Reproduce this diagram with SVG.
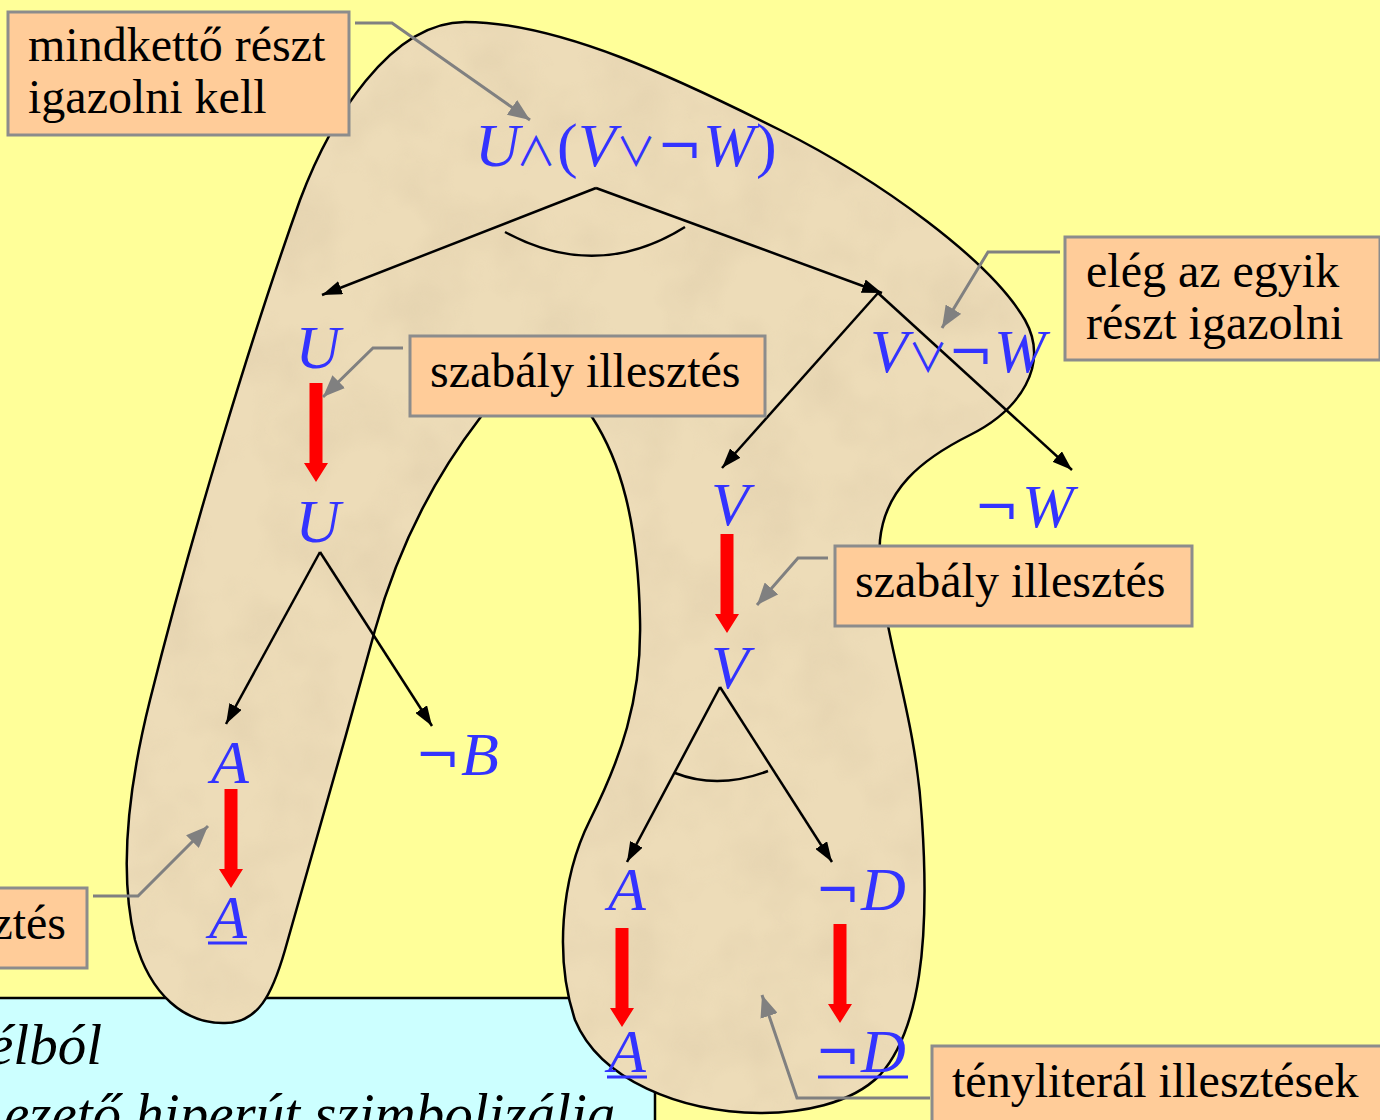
<svg xmlns="http://www.w3.org/2000/svg" width="1380" height="1120" viewBox="0 0 1380 1120">
<defs>
<style>
.box{fill:#FFCC99;stroke:#8C8C8C;stroke-width:3}
.lbl{font-family:"Liberation Serif","Times New Roman",serif;font-size:48px;fill:#000}
.m{font-family:"Liberation Serif","Times New Roman",serif;font-size:62px;fill:#3333FF;font-style:italic}
.op{font-style:normal}
.sym{font-style:normal;font-family:"Noto Sans CJK JP","DejaVu Serif",serif;font-size:40px}
.neg{font-style:normal;font-family:"DejaVu Serif",serif;font-size:54px}
.conn{fill:none;stroke:#000;stroke-width:2.5}
.call{fill:none;stroke:#808080;stroke-width:3}
.red{fill:#FF0000}
.ul{stroke:#3333FF;stroke-width:3}
</style>
<marker id="ah" viewBox="0 0 20 14" refX="20" refY="7" markerWidth="20" markerHeight="14" markerUnits="userSpaceOnUse" orient="auto"><path d="M0,0 L20,7 L0,14 Z" fill="#000"/></marker>
<marker id="gh" viewBox="0 0 22 18" refX="22" refY="9" markerWidth="22" markerHeight="18" markerUnits="userSpaceOnUse" orient="auto"><path d="M0,0 L22,9 L0,18 Z" fill="#808080"/></marker>
<path id="ra" d="M-6.5,-99 H6.5 V-19 H12 L0,0 L-12,-19 H-6.5 Z"/>
<filter id="tex" x="0" y="0" width="100%" height="100%">
<feTurbulence type="fractalNoise" baseFrequency="0.015" numOctaves="3" seed="4" result="n"/>
<feColorMatrix in="n" type="matrix" values="0 0 0 0 0.62  0 0 0 0 0.50  0 0 0 0 0.33  0.9 0 0 0 -0.35" result="c"/>
<feComposite in="c" in2="SourceGraphic" operator="in"/>
</filter>
<path id="blobshape" d="M465,22 C560,22 680,80 780,130 C880,180 990,260 1025,320 C1050,365 1020,410 970,435 C920,460 885,490 880,540 C875,620 915,700 922,820 C930,940 920,1030 880,1075 C850,1105 800,1113 760,1113 C680,1112 600,1080 575,1020 C555,960 560,880 590,820 C620,760 642,700 640,620 C638,520 620,460 592,417 C560,370 510,370 480,418 C440,470 400,540 375,630 C345,740 305,880 285,950 C272,995 258,1023 225,1023 C185,1024 150,995 135,940 C118,870 130,780 150,700 C190,540 250,340 300,200 C330,120 390,22 465,22 Z"/>
</defs>
<rect x="0" y="0" width="1380" height="1120" fill="#FFFF99"/>

<g id="infobox">
<rect x="-3" y="998" width="658" height="130" fill="#CCFFFF" stroke="#000" stroke-width="2.5"/>
<text x="-12" y="1064" font-family="Liberation Serif,serif" font-size="57" font-style="italic">élból</text>
<text x="4" y="1133" font-family="Liberation Serif,serif" font-size="57" font-style="italic">ezető hiperút szimbolizálja</text>
</g>

<g id="blob">
<use href="#blobshape" fill="#EDDCB8"/>
<use href="#blobshape" fill="#EDDCB8" filter="url(#tex)" opacity="0.55"/>
<use href="#blobshape" fill="none" stroke="#000" stroke-width="2.5"/>
</g>

<g id="connectors">
<path class="conn" d="M596,188 L322,295" marker-end="url(#ah)"/>
<path class="conn" d="M596,188 L882,293" marker-end="url(#ah)"/>
<path class="conn" d="M505,232 Q597,282 685,227"/>
<path class="conn" d="M878,293 L722,468" marker-end="url(#ah)"/>
<path class="conn" d="M878,293 L1072,470" marker-end="url(#ah)"/>
<path class="conn" d="M320,552 L226,724" marker-end="url(#ah)"/>
<path class="conn" d="M320,552 L432,726" marker-end="url(#ah)"/>
<path class="conn" d="M720,687 L627,862" marker-end="url(#ah)"/>
<path class="conn" d="M720,687 L832,862" marker-end="url(#ah)"/>
<path class="conn" d="M675,773 Q718,790 768,771"/>
<use href="#ra" class="red" transform="translate(316,482)"/>
<use href="#ra" class="red" transform="translate(727,633)"/>
<use href="#ra" class="red" transform="translate(231,888)"/>
<use href="#ra" class="red" transform="translate(622,1027)"/>
<use href="#ra" class="red" transform="translate(840,1023)"/>
</g>

<g id="n-root"><text class="m" x="475" y="166">U<tspan class="sym" x="516">∧</tspan><tspan class="op" x="557">(</tspan><tspan x="578">V</tspan><tspan class="sym" x="616">∨</tspan><tspan class="neg" x="657">¬</tspan><tspan x="703">W</tspan><tspan class="op" x="756">)</tspan></text></g>
<g id="n-U1"><text class="m" x="318" y="368" text-anchor="middle">U</text></g>
<g id="n-VorW"><text class="m" x="870" y="372">V<tspan class="sym" x="908">∨</tspan><tspan class="neg" x="948">¬</tspan><tspan x="994">W</tspan></text></g>
<g id="n-U2"><text class="m" x="318" y="542" text-anchor="middle">U</text></g>
<g id="n-V1"><text class="m" x="730" y="525" text-anchor="middle">V</text></g>
<g id="n-notW"><text class="m" x="974" y="527"><tspan class="neg">¬</tspan><tspan x="1022">W</tspan></text></g>
<g id="n-V2"><text class="m" x="730" y="688" text-anchor="middle">V</text></g>
<g id="n-A1"><text class="m" x="230" y="783" text-anchor="middle">A</text></g>
<g id="n-notB"><text class="m" x="415" y="775"><tspan class="neg">¬</tspan><tspan x="461">B</tspan></text></g>
<g id="n-A1u"><text class="m" x="228" y="938" text-anchor="middle">A</text><line class="ul" x1="208" y1="943" x2="247" y2="943"/></g>
<g id="n-A2"><text class="m" x="627" y="910" text-anchor="middle">A</text></g>
<g id="n-notD"><text class="m" x="815" y="910"><tspan class="neg">¬</tspan><tspan x="861">D</tspan></text></g>
<g id="n-A2u"><text class="m" x="627" y="1072" text-anchor="middle">A</text><line class="ul" x1="607" y1="1077" x2="647" y2="1077"/></g>
<g id="n-notDu"><text class="m" x="815" y="1072"><tspan class="neg">¬</tspan><tspan x="861">D</tspan></text><line class="ul" x1="818" y1="1077" x2="908" y2="1077"/></g>

<g id="callouts">
<path class="call" d="M355,23 H392 L530,120" marker-end="url(#gh)"/>
<path class="call" d="M1060,252 H988 L942,328" marker-end="url(#gh)"/>
<path class="call" d="M403,348 H373 L323,397" marker-end="url(#gh)"/>
<path class="call" d="M828,558 H798 L757,605" marker-end="url(#gh)"/>
<path class="call" d="M93,896 H138 L208,826" marker-end="url(#gh)"/>
<path class="call" d="M930,1098 H797 L762,995" marker-end="url(#gh)"/>
</g>

<g id="box-mindketto"><rect class="box" x="8" y="12" width="341" height="123"/><text class="lbl" x="28" y="61">mindkettő részt</text><text class="lbl" x="28" y="113">igazolni kell</text></g>
<g id="box-eleg"><rect class="box" x="1065" y="237" width="315" height="123"/><text class="lbl" x="1086" y="287">elég az egyik</text><text class="lbl" x="1086" y="339">részt igazolni</text></g>
<g id="box-szabaly1"><rect class="box" x="410" y="336" width="355" height="80"/><text class="lbl" x="430" y="387">szabály illesztés</text></g>
<g id="box-szabaly2"><rect class="box" x="835" y="546" width="357" height="80"/><text class="lbl" x="855" y="597">szabály illesztés</text></g>
<g id="box-szabaly3"><rect class="box" x="-5" y="888" width="92" height="80"/><text class="lbl" x="66" y="939" text-anchor="end">ztés</text></g>
<g id="box-teny"><rect class="box" x="932" y="1046" width="455" height="80"/><text class="lbl" x="952" y="1097">tényliterál illesztések</text></g>
</svg>
